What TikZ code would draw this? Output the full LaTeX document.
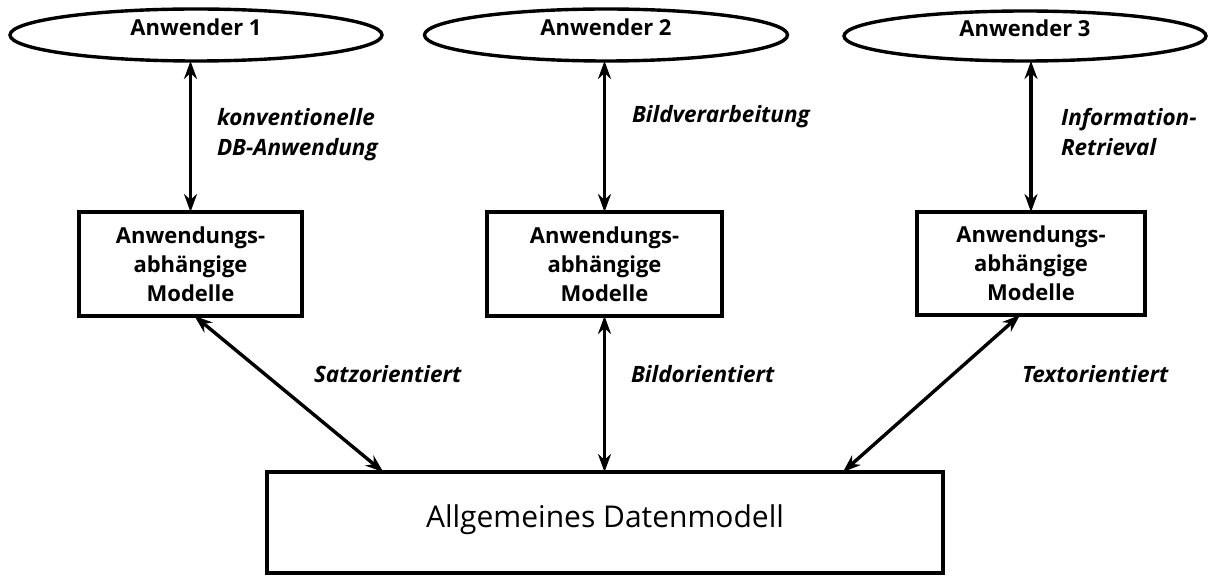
\documentclass[tikz,border=0pt]{standalone}
\usepackage{fontspec}
\setmainfont{Open Sans}
\usetikzlibrary{shapes.geometric,arrows.meta,calc}
\begin{document}
\begin{tikzpicture}[x=1pt,y=-1pt,
  every node/.style={inner sep=0pt, outer sep=0pt},
  user/.style={draw, line width=3.4pt, ellipse, text depth=16pt, font=\fontsize{22}{24}\selectfont\bfseries},
  model/.style={draw, line width=3.4pt, font=\fontsize{22}{29}\selectfont\bfseries, align=center},
  lbl/.style={font=\fontsize{22.5}{30}\selectfont\bfseries\itshape, align=left, anchor=west},
  conn/.style={line width=3.4pt, {Stealth[length=18pt,width=13pt]}-{Stealth[length=18pt,width=13pt]}}
]
\useasboundingbox (0,0) rectangle (1208,577);
% users
\node[user, minimum width=372pt, minimum height=52pt] (e1) at (196,35) {Anwender 1};
\node[user, minimum width=363pt, minimum height=52pt] (e2) at (606,35) {Anwender 2};
\node[user, minimum width=362pt, minimum height=50pt] (e3) at (1025,36) {Anwender 3};
% models
\node[model, minimum width=223pt, minimum height=104pt] (b1) at (190.5,264) {Anwendungs-\\abhängige\\Modelle};
\node[model, minimum width=235pt, minimum height=104pt] (b2) at (604.5,264) {Anwendungs-\\abhängige\\Modelle};
\node[model, minimum width=228pt, minimum height=103pt] (b3) at (1031,263.5) {Anwendungs-\\abhängige\\Modelle};
% general
\node[draw, line width=3.4pt, minimum width=676pt, minimum height=101pt, text depth=12pt,
  font=\fontsize{30}{34}\selectfont] (dm) at (605,522.5) {Allgemeines Datenmodell};
% connectors
\draw[conn] (b1.north |- e1.south) -- (b1.north);
\draw[conn] (b2.north |- e2.south) -- (b2.north);
\draw[conn] (b3.north |- e3.south) -- (b3.north);
\draw[conn] ($(b1.south)+(4,0)$) -- ($(dm.north west)!0.172!(dm.north east)$);
\draw[conn] (b2.south) -- (b2.south |- dm.north);
\draw[conn] ($(b3.south)+(-11,0)$) -- ($(dm.north west)!0.852!(dm.north east)$);
% labels
\node[lbl] (l1) at (217,134.5) {konventionelle\\DB-Anwendung};
\node[lbl] (l2) at (632,116.5) {Bildverarbeitung};
\node[lbl] (l3) at (1061,132) {Information-\\Retrieval};
\node[lbl] (l4) at (314,374) {Satzorientiert};
\node[lbl] (l5) at (631,374) {Bildorientiert};
\node[lbl] (l6) at (1022,374) {Textorientiert};
\end{tikzpicture}
\end{document}
